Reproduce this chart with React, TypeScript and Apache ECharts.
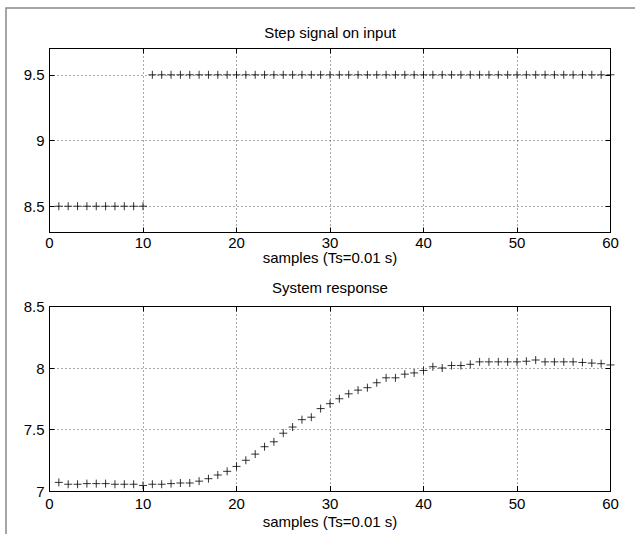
import React, { useEffect, useRef } from "react";
import * as echarts from "echarts";

const samples = [1,2,3,4,5,6,7,8,9,10,11,12,13,14,15,16,17,18,19,20,21,22,23,24,25,26,27,28,29,30,31,32,33,34,35,36,37,38,39,40,41,42,43,44,45,46,47,48,49,50,51,52,53,54,55,56,57,58,59,60];
const stepValues = [8.5,8.5,8.5,8.5,8.5,8.5,8.5,8.5,8.5,8.5,9.5,9.5,9.5,9.5,9.5,9.5,9.5,9.5,9.5,9.5,9.5,9.5,9.5,9.5,9.5,9.5,9.5,9.5,9.5,9.5,9.5,9.5,9.5,9.5,9.5,9.5,9.5,9.5,9.5,9.5,9.5,9.5,9.5,9.5,9.5,9.5,9.5,9.5,9.5,9.5,9.5,9.5,9.5,9.5,9.5,9.5,9.5,9.5,9.5,9.5];
const responseValues = [7.07,7.055,7.055,7.06,7.06,7.06,7.055,7.055,7.055,7.045,7.055,7.055,7.06,7.065,7.065,7.08,7.10,7.13,7.16,7.20,7.25,7.30,7.36,7.40,7.47,7.52,7.58,7.60,7.67,7.71,7.75,7.79,7.82,7.84,7.88,7.92,7.92,7.95,7.96,7.98,8.01,8.00,8.02,8.02,8.03,8.05,8.05,8.05,8.05,8.05,8.055,8.065,8.05,8.05,8.05,8.05,8.045,8.04,8.035,8.025];
const xTicks = [0,10,20,30,40,50,60];
const topYTicks = [8.5,9,9.5];
const bottomYTicks = [7,7.5,8,8.5];
const topTitle = "Step signal on input";
const bottomTitle = "System response";
const xName = "samples (Ts=0.01 s)";

const FONT = "Liberation Sans";
const FS = 15;

export default function App() {
  const ref = useRef<HTMLDivElement>(null);
  useEffect(() => {
    if (!ref.current) return;
    const chart = echarts.init(ref.current, null, { renderer: "svg" });
    const plus = "path://M0,5L10,5M5,0L5,10";
    const gridLine = { show: true, lineStyle: { color: "#555", width: 1, type: [1, 3] as any } };
    const axisLine = { show: true, onZero: false, lineStyle: { color: "#000", width: 1 } };
    const tick = (vals?: number[]) => ({ show: true, inside: true, length: 5, lineStyle: { color: "#000" }, ...(vals ? { customValues: vals } : {}) });
    const label = { color: "#000", fontFamily: FONT, fontSize: FS };
    const xAxis = (grid: number, pos: "bottom" | "top", main: boolean, labelMargin: number, nameGap: number) => ({
      type: "value", gridIndex: grid, position: pos, min: 0, max: 60, interval: 10,
      axisLine, axisTick: tick(xTicks), splitLine: main ? gridLine : { show: false },
      axisLabel: main ? { ...label, margin: labelMargin, customValues: xTicks } : { show: false },
      name: main ? xName : "", nameLocation: "middle", nameGap,
      nameTextStyle: { ...label },
    });
    const yAxis = (grid: number, pos: "left" | "right", main: boolean, min: number, max: number, ticks: number[]) => ({
      type: "value", gridIndex: grid, position: pos, min, max,
      axisLine, axisTick: tick(ticks),
      splitLine: main ? gridLine : { show: false },
      axisLabel: main ? { ...label, margin: 5, customValues: ticks, formatter: (v: number) => String(v) } : { show: false },
    });
    chart.setOption({
      animation: false,
      backgroundColor: "#fff",
      grid: [
        { left: 49.5, top: 48.5, width: 561, height: 184, show: false },
        { left: 49.5, top: 306.5, width: 561, height: 184.5, show: false },
      ],
      xAxis: [
        xAxis(0, "bottom", true, 2, 17),
        xAxis(0, "top", false, 0, 0),
        xAxis(1, "bottom", true, 5, 23),
        xAxis(1, "top", false, 0, 0),
      ],
      yAxis: [
        yAxis(0, "left", true, 8.3, 9.7, topYTicks),
        yAxis(0, "right", false, 8.3, 9.7, topYTicks),
        yAxis(1, "left", true, 7, 8.5, bottomYTicks),
        yAxis(1, "right", false, 7, 8.5, bottomYTicks),
      ],
      series: [
        {
          type: "scatter", xAxisIndex: 0, yAxisIndex: 0,
          data: samples.map((s, i) => [s, stepValues[i]]),
          symbol: plus, symbolSize: 8,
          itemStyle: { color: "#000", borderColor: "#000", borderWidth: 1 },
        },
        {
          type: "scatter", xAxisIndex: 2, yAxisIndex: 2,
          data: samples.map((s, i) => [s, responseValues[i]]),
          symbol: plus, symbolSize: 8,
          itemStyle: { color: "#000", borderColor: "#000", borderWidth: 1 },
        },
      ],
      graphic: [
        { type: "rect", shape: { x: 6, y: 8, width: 700, height: 600 }, style: { fill: "none", stroke: "#888", lineWidth: 1.5 }, silent: true },
        { type: "text", x: 330, y: 32.5, style: { text: topTitle, fill: "#000", font: `${FS}px "${FONT}"`, textAlign: "center", textVerticalAlign: "middle" } },
        { type: "text", x: 330, y: 287.5, style: { text: bottomTitle, fill: "#000", font: `${FS}px "${FONT}"`, textAlign: "center", textVerticalAlign: "middle" } },
      ],
    });
    return () => chart.dispose();
  }, []);
  return <div ref={ref} style={{ position: "fixed", left: 0, top: 0, width: 635, height: 534 }} />;
}
